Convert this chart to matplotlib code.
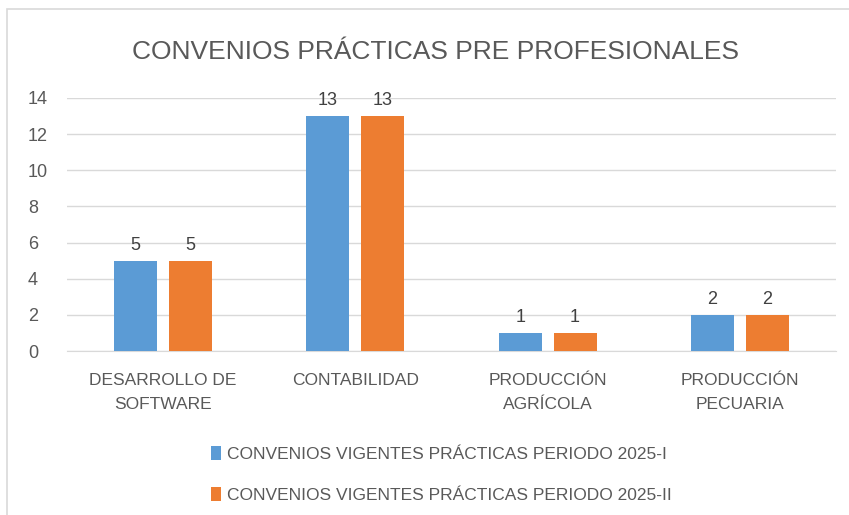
import matplotlib
matplotlib.use("Agg")
import matplotlib.pyplot as plt
from matplotlib.patches import Rectangle
import numpy as np

categories = ["DESARROLLO DE\nSOFTWARE", "CONTABILIDAD", "PRODUCCIÓN\nAGRÍCOLA", "PRODUCCIÓN\nPECUARIA"]
series_names = ["CONVENIOS VIGENTES PRÁCTICAS PERIODO 2025-I",
                "CONVENIOS VIGENTES PRÁCTICAS PERIODO 2025-II"]
values_2025_I = [5, 13, 1, 2]
values_2025_II = [5, 13, 1, 2]
yticks = [0, 2, 4, 6, 8, 10, 12, 14]

plt.rcParams['font.family'] = ['Liberation Sans Narrow', 'Liberation Sans', 'DejaVu Sans']
txt = "#595959"
colors = ["#5B9BD5", "#ED7D31"]

W, H = 849, 515
fig = plt.figure(figsize=(W/100, H/100), dpi=100)
ax = fig.add_axes([67/W, 1-351/H, (836-67)/W, (351-98)/H])

x = np.arange(len(categories))
bw = 0.224
off = 0.143
b1 = ax.bar(x - off, values_2025_I, bw, color=colors[0], label=series_names[0], zorder=3)
b2 = ax.bar(x + off, values_2025_II, bw, color=colors[1], label=series_names[1], zorder=3)
for bars in (b1, b2):
    for r in bars:
        ax.annotate(f"{int(r.get_height())}", (r.get_x()+r.get_width()/2, r.get_height()),
                    xytext=(0, 5), textcoords="offset points", ha="center", va="bottom",
                    fontsize=13, color="#404040")

ax.set_xlim(-0.5, len(categories)-0.5)
ax.set_ylim(0, 14)
ax.set_yticks(yticks)
ax.set_xticks(x)
ax.set_xticklabels(categories, fontsize=12.5, color=txt, linespacing=1.75)
ax.tick_params(axis='y', labelsize=13, labelcolor=txt, length=0, pad=28)
ax.tick_params(axis='x', length=0, pad=16)
ax.grid(axis='y', color="#D9D9D9", linewidth=1, zorder=0)
for s in ["top", "right", "left"]:
    ax.spines[s].set_visible(False)
ax.spines["bottom"].set_color("#D9D9D9")
for lbl in ax.get_yticklabels():
    lbl.set_horizontalalignment("left")

fig.text(436/W, 1-52/H, "CONVENIOS PRÁCTICAS PRE PROFESIONALES", ha="center", va="center",
         fontsize=19, color=txt)

fig.legend(handles=[b1, b2], labels=series_names, loc="upper left",
           bbox_to_anchor=(195/W, 1-430/H), ncol=1, frameon=False, fontsize=12.5,
           labelcolor=txt, handlelength=0.6, handleheight=0.9, handletextpad=0.35,
           labelspacing=1.45)

fig.patches.append(Rectangle((7/W, -0.01), 1.0, 1-9/H+0.01, transform=fig.transFigure,
                             fill=False, edgecolor="#D9D9D9", linewidth=1.2))

fig.savefig("out.png", dpi=100, facecolor="white")
